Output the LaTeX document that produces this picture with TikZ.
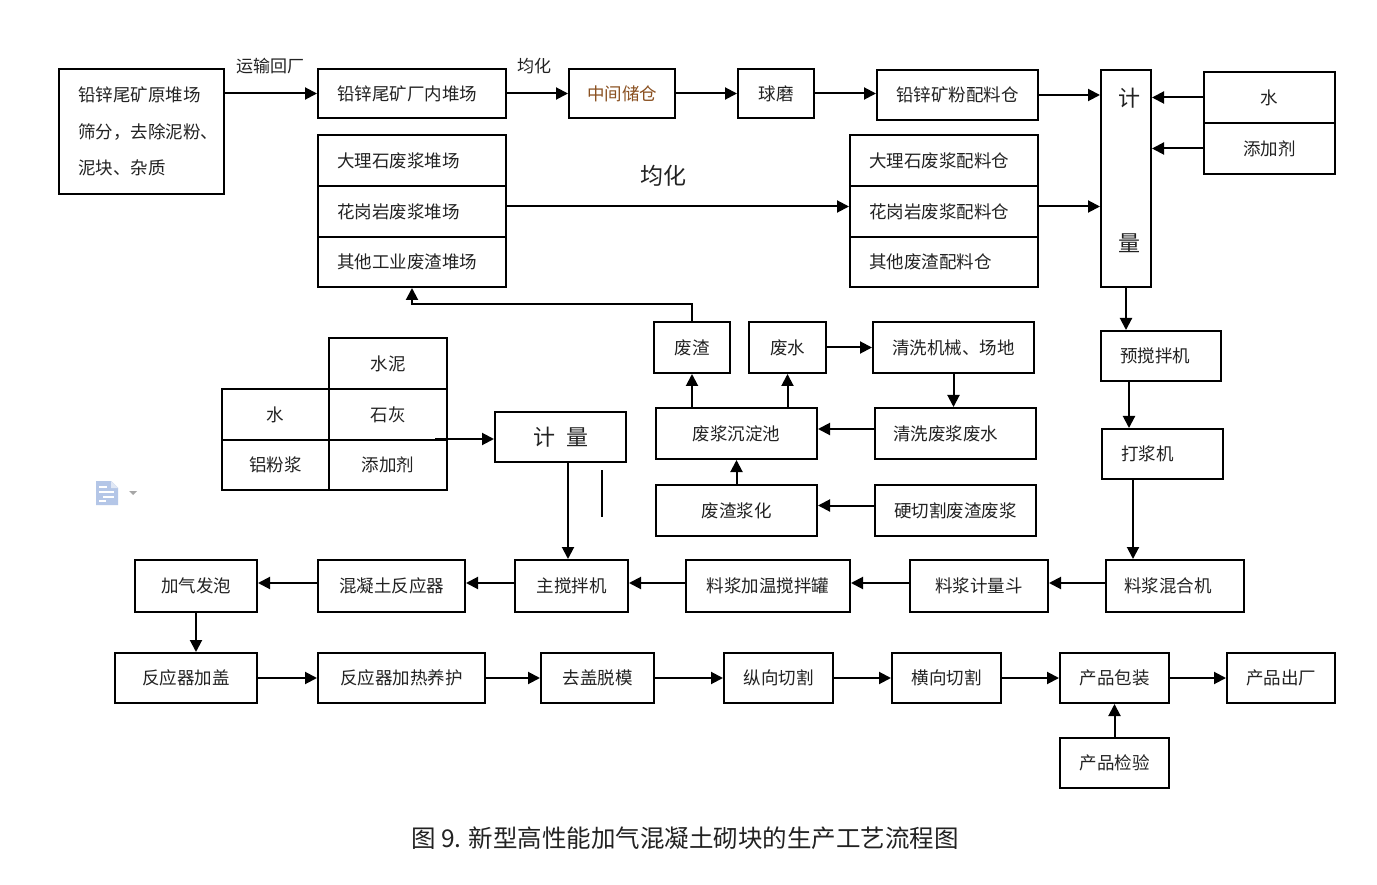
\documentclass[tikz,border=0pt]{standalone}
\usepackage{fontspec}
\setmainfont{Noto Sans CJK SC}
\usetikzlibrary{arrows.meta,calc}
\definecolor{txt}{HTML}{222222}
\definecolor{orn}{HTML}{8A5020}
\definecolor{iconblue}{HTML}{B4C6E7}
\begin{document}
\begin{tikzpicture}[x=1pt,y=-1pt,
  box/.style={draw, line width=2pt, inner sep=0pt, text=txt, font=\fontsize{17.5}{20}\selectfont, minimum height=50pt},
  lbox/.style={box, align=left, text width=#1, inner xsep=19pt},
  arr/.style={line width=2pt, -{Triangle[length=12pt,width=12pt]}},
  lbl/.style={text=txt, font=\fontsize{17}{19}\selectfont, inner sep=0pt}]
\fill[white] (0,0) rectangle (1377,885);
\useasboundingbox (0,0) rectangle (1377,885);

% row 1
\node[lbox=127pt, minimum width=165pt, minimum height=125pt, font=\fontsize{17.5}{36.5}\selectfont] (src) at (141.5,131.5) {铅锌尾矿原堆场\\筛分，去除泥粉、\\泥块、杂质};
\node[lbox=150pt, minimum width=188pt, minimum height=49pt] (a2) at (412,93.5) {铅锌尾矿厂内堆场};
\node[box, minimum width=106pt, minimum height=49pt, text=orn] (a3) at (622,93.5) {中间储仓};
\node[box, minimum width=76pt, minimum height=49pt] (a4) at (776,93.5) {球磨};
\node[box, minimum width=161pt] (a5) at (957.5,95) {铅锌矿粉配料仓};
\node[box, minimum width=50pt, minimum height=217pt] (meter) at (1126,178.5) {};
\node[text=txt, font=\fontsize{22}{24}\selectfont, inner sep=0pt] (meterA) at (1129,98) {计};
\node[text=txt, font=\fontsize{22}{24}\selectfont, inner sep=0pt] (meterB) at (1129,243) {量};
\node[box, minimum width=131pt, minimum height=51pt] (water) at (1269.5,97.5) {水};
\node[box, minimum width=131pt, minimum height=51pt] (add) at (1269.5,148.5) {添加剂};

\node[lbl] (t1) at (270,66) {运输回厂};
\node[lbl] (t2) at (534,66) {均化};
\node[lbl, font=\fontsize{23}{25}\selectfont] (t3) at (663,176) {均化};

% stacks
\node[lbox=150pt, minimum width=188pt, minimum height=51pt] (l1) at (412,160.5) {大理石废浆堆场};
\node[lbox=150pt, minimum width=188pt, minimum height=51pt] (l2) at (412,211.5) {花岗岩废浆堆场};
\node[lbox=150pt, minimum width=188pt, minimum height=50pt] (l3) at (412,262) {其他工业废渣堆场};
\node[lbox=150pt, minimum width=188pt, minimum height=51pt] (r1) at (944,160.5) {大理石废浆配料仓};
\node[lbox=150pt, minimum width=188pt, minimum height=51pt] (r2) at (944,211.5) {花岗岩废浆配料仓};
\node[lbox=150pt, minimum width=188pt, minimum height=50pt] (r3) at (944,262) {其他废渣配料仓};

% right column
\node[lbox=82pt, minimum width=120pt] (premix) at (1161,356) {预搅拌机};
\node[lbox=83pt, minimum width=121pt] (beater) at (1162.5,454) {打浆机};
\node[lbox=102pt, minimum width=138pt, minimum height=52pt, inner xsep=18pt] (mixer) at (1175,586) {料浆混合机};

% middle cluster
\node[box, minimum width=76pt, minimum height=51pt] (fz) at (692,347.5) {废渣};
\node[box, minimum width=77pt, minimum height=51pt] (fs) at (787.5,347.5) {废水};
\node[box, minimum width=161pt, minimum height=51pt] (clean) at (953.5,347.5) {清洗机械、场地};
\node[lbox=125pt, minimum width=161pt, minimum height=51pt, inner xsep=18pt] (cww) at (955.5,433.5) {清洗废浆废水};
\node[box, minimum width=161pt, minimum height=51pt] (pool) at (736.5,433.5) {废浆沉淀池};
\node[box, minimum width=161pt, minimum height=51pt] (slur) at (736.5,510.5) {废渣浆化};
\node[box, minimum width=161pt, minimum height=51pt] (hard) at (955.5,510.5) {硬切割废渣废浆};

% left table
\node[box, minimum width=118pt, minimum height=51pt] (cement) at (388,363.5) {水泥};
\node[box, minimum width=107pt, minimum height=51pt] (w2) at (275.5,414.5) {水};
\node[box, minimum width=118pt, minimum height=51pt] (lime) at (388,414.5) {石灰};
\node[box, minimum width=107pt, minimum height=50pt] (al) at (275.5,465) {铝粉浆};
\node[box, minimum width=118pt, minimum height=50pt] (add2) at (388,465) {添加剂};
\node[box, minimum width=131pt, minimum height=50pt, font=\fontsize{22}{24}\selectfont] (meter2) at (560.5,437) {计\hspace{0.5em}量};

% row 5
\node[box, minimum width=122pt, minimum height=52pt] (foam) at (196,586) {加气发泡};
\node[box, minimum width=147pt, minimum height=52pt] (reactor) at (391.5,586) {混凝土反应器};
\node[box, minimum width=113pt, minimum height=52pt] (mainmix) at (571.5,586) {主搅拌机};
\node[box, minimum width=164pt, minimum height=52pt] (heat) at (768,586) {料浆加温搅拌罐};
\node[box, minimum width=138pt, minimum height=52pt] (hopper) at (979,586) {料浆计量斗};

% row 6
\node[box, minimum width=142pt] (lid) at (186,678) {反应器加盖};
\node[box, minimum width=167pt] (cure) at (401.5,678) {反应器加热养护};
\node[box, minimum width=113pt] (demold) at (597.5,678) {去盖脱模};
\node[box, minimum width=109pt] (lcut) at (778.5,678) {纵向切割};
\node[box, minimum width=109pt] (tcut) at (946.5,678) {横向切割};
\node[box, minimum width=109pt] (pack) at (1114.5,678) {产品包装};
\node[box, minimum width=108pt] (ship) at (1281,678) {产品出厂};
\node[box, minimum width=109pt] (inspect) at (1114.5,763) {产品检验};

% caption
\node[text=txt, font=\fontsize{24.5}{27}\selectfont, inner sep=0pt] (cap) at (685,838) {图 9. 新型高性能加气混凝土砌块的生产工艺流程图};

% coordinates
\coordinate (col1) at (1129,0);
\coordinate (col2) at (1133,0);
\coordinate (col3) at (568,0);
\coordinate (tabout) at (435,439);

% connectors row 1
\draw[arr] (src.east |- a2.west) -- (a2.west);
\draw[arr] (a2.east) -- (a3.west);
\draw[arr] (a3.east) -- (a4.west);
\draw[arr] (a4.east) -- (a4.east -| a5.west);
\draw[arr] (a5.east) -- (a5.east -| meter.west);
\draw[arr] (water.west) -- (water.west -| meter.east);
\draw[arr] (add.west) -- (add.west -| meter.east);
\draw[arr] ([yshift=5pt]l2.east) -- ([yshift=5pt]r2.west);
\draw[arr] ([yshift=5pt]r2.east) -- ([yshift=5pt]r2.east -| meter.west);
\draw[arr] (fz.north) -- ++(0,-17) -| (l3.south);

% right column
\draw[arr] (meter.south) -- (meter.south |- premix.north);
\draw[arr] (col1 |- premix.south) -- (col1 |- beater.north);
\draw[arr] (col2 |- beater.south) -- (col2 |- mixer.north);

% middle cluster
\draw[arr] (fs.east) -- (clean.west);
\draw[arr] (clean.south) -- (clean.south |- cww.north);
\draw[arr] ([yshift=4.5pt]cww.west) -- ([yshift=4.5pt]pool.east);
\draw[arr] (pool.north -| fz) -- (fz.south);
\draw[arr] (pool.north -| fs) -- (fs.south);
\draw[arr] (slur.north) -- (pool.south);
\draw[arr] ([yshift=5pt]hard.west) -- ([yshift=5pt]slur.east);

% table and meter2
\draw[arr] (tabout) -- (tabout -| meter2.west);
\draw[arr] (col3 |- meter2.south) -- (col3 |- mainmix.north);
\draw[line width=2pt] (602,470) -- (602,517);

% row 5
\draw[arr] ([yshift=3pt]mixer.west) -- ([yshift=3pt]hopper.east);
\draw[arr] ([yshift=3pt]hopper.west) -- ([yshift=3pt]heat.east);
\draw[arr] ([yshift=3pt]heat.west) -- ([yshift=3pt]mainmix.east);
\draw[arr] ([yshift=3pt]mainmix.west) -- ([yshift=3pt]reactor.east);
\draw[arr] ([yshift=3pt]reactor.west) -- ([yshift=3pt]foam.east);
\draw[arr] (foam.south) -- (foam.south |- lid.north);

% row 6
\draw[arr] (lid.east) -- (cure.west);
\draw[arr] (cure.east) -- (demold.west);
\draw[arr] (demold.east) -- (lcut.west);
\draw[arr] (lcut.east) -- (tcut.west);
\draw[arr] (tcut.east) -- (pack.west);
\draw[arr] (pack.east) -- (ship.west);
\draw[arr] (inspect.north) -- (pack.south);

% paste icon
\fill[iconblue] (96,481) -- (111,481) -- (118,488) -- (118,505) -- (96,505) -- cycle;
\fill[white!60!iconblue] (111,481) -- (111,488) -- (118,488) -- cycle;
\draw[white, line width=1.3pt] (99,487) -- (107,487) (99,492) -- (114,492) (103,497) -- (114,497) (99,501) -- (106,501);
\fill[gray!70] (129,491) -- (137,491) -- (133,495) -- cycle;
\end{tikzpicture}
\end{document}
